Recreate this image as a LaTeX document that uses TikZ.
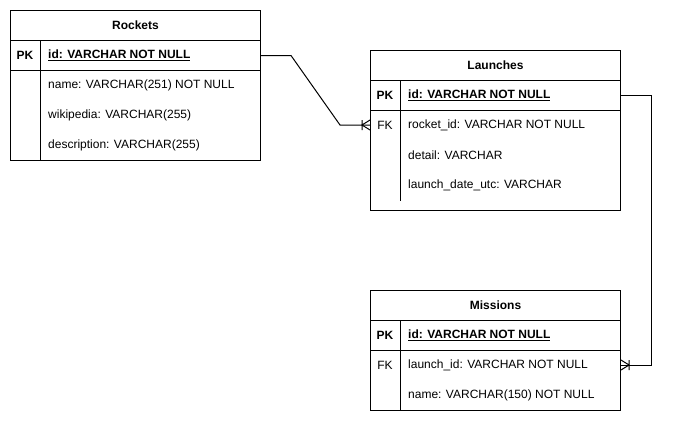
\documentclass[tikz,border=0pt]{standalone}
\usepackage{fontspec}
\setmainfont{Liberation Sans}
\usetikzlibrary{calc}
\tikzset{
  ln/.style={draw=black, line width=1pt},
  cell/.style={draw=black, line width=1pt, minimum width=250pt, minimum height=30pt, inner sep=0pt, anchor=north west},
  body/.style={draw=black, line width=1pt, minimum width=250pt, inner sep=0pt, anchor=north west},
  ttl/.style={font=\fontsize{12}{14}\selectfont\bfseries},
  keyb/.style={font=\fontsize{12}{14}\selectfont\bfseries, inner sep=0pt},
  keyn/.style={font=\fontsize{12}{14}\selectfont, inner sep=0pt},
  fld/.style={anchor=west, inner sep=0pt, font=\fontsize{12}{14}\selectfont},
  fldb/.style={anchor=west, inner sep=0pt, font=\fontsize{12}{14}\selectfont\bfseries},
  conn/.style={draw=black, line width=1pt},
  crowfoot/.pic={\draw[line width=1pt] (0,-5) -- (0,5) (8,-5) -- (0,0) -- (8,5);}
}
\begin{document}
\begin{tikzpicture}[x=1pt,y=-1pt]
\useasboundingbox (0,0) rectangle (681,424);
% Rockets
\node[cell] (rT) at (10,10) {};
\node[ttl] (rTt) at (rT.center) {Rockets};
\node[cell] (rPK) at (10,40) {};
\node[body, minimum height=90pt] (rB) at (10,70) {};
\draw[ln] ($(rPK.north west)+(30,0)$) -- ($(rB.south west)+(30,0)$);
\node[keyb] (rPKk) at (25,55) {PK};
\node[fldb] (rPKf) at (48,55) {\underline{id: VARCHAR NOT NULL}};
\node[fld] (r1) at (48,85) {name: VARCHAR(251) NOT NULL};
\node[fld] (r2) at (48,115) {wikipedia: VARCHAR(255)};
\node[fld] (r3) at (48,145) {description: VARCHAR(255)};
% Launches
\node[cell] (lT) at (370,50) {};
\node[ttl] (lTt) at (lT.center) {Launches};
\node[cell] (lPK) at (370,80) {};
\node[body, minimum height=100pt] (lB) at (370,110) {};
\draw[ln] ($(lPK.north west)+(30,0)$) -- ($(lB.south west)+(30,-10)$);
\node[keyb] (lPKk) at (385,95) {PK};
\node[fldb] (lPKf) at (408,95) {\underline{id: VARCHAR NOT NULL}};
\node[keyn] (lFK) at (385,125) {FK};
\node[fld] (l1) at (408,125) {rocket\_id: VARCHAR NOT NULL};
\node[fld] (l2) at (408,155) {detail: VARCHAR};
\node[fld] (l3) at (408,185) {launch\_date\_utc: VARCHAR};
% Missions
\node[cell] (mT) at (370,290) {};
\node[ttl] (mTt) at (mT.center) {Missions};
\node[cell] (mPK) at (370,320) {};
\node[body, minimum height=60pt] (mB) at (370,350) {};
\draw[ln] ($(mPK.north west)+(30,0)$) -- ($(mB.south west)+(30,0)$);
\node[keyb] (mPKk) at (385,335) {PK};
\node[fldb] (mPKf) at (408,335) {\underline{id: VARCHAR NOT NULL}};
\node[keyn] (mFK) at (385,365) {FK};
\node[fld] (m1) at (408,365) {launch\_id: VARCHAR NOT NULL};
\node[fld] (m2) at (408,395) {name: VARCHAR(150) NOT NULL};
% connectors
\coordinate (e1) at (lB.west |- lFK);
\coordinate (e2) at (mB.east |- mFK);
\draw[conn] (rPK.east) -- ++(30,0) -- ($(e1)+(-30,0)$) -- (e1);
\pic at ($(e1)+(-8,0)$) {crowfoot};
\draw[conn] (lPK.east) -- ++(30,0) |- (e2);
\pic[xscale=-1] at ($(e2)+(8,0)$) {crowfoot};
\end{tikzpicture}
\end{document}
